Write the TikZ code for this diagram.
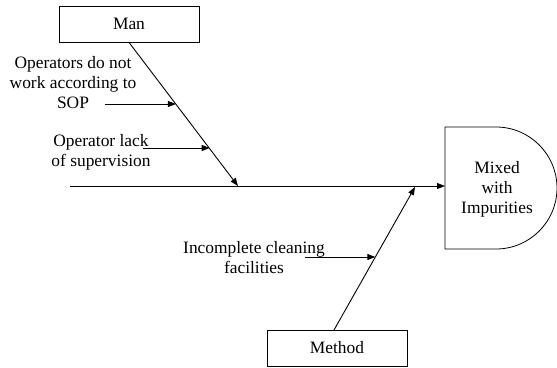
\documentclass[tikz,border=0pt]{standalone}
\usepackage{fontspec}
\setmainfont{Liberation Serif}
\usetikzlibrary{arrows.meta,calc}

\tikzset{
  bone/.style={line width=0.9pt,-{Triangle[length=8pt,width=6pt]}},
  catbox/.style={draw,line width=0.8pt,minimum width=140pt,minimum height=36pt,inner sep=0pt},
  cause/.style={align=center,inner sep=0pt},
  txt/.style={font=\fontsize{17.4}{20}\selectfont}
}

\begin{document}
\begin{tikzpicture}[x=1pt,y=-1pt,txt]
  \useasboundingbox (0,0) rectangle (557,367);

  % category boxes
  \node[catbox] (man) at (129,24) {Man};
  \node[catbox] (method) at (337,348) {Method};

  % effect head (D shape)
  \draw[line width=0.8pt] (445,127) -- (496,127) arc[start angle=-90,end angle=90,radius=61] -- (445,249) -- cycle;
  \node[cause] (effect) at (497,189) {Mixed\\with\\Impurities};

  % spine
  \coordinate (tail) at (70,186);
  \coordinate (head) at (445,186);
  \draw[bone] (tail) -- (head);

  % main bones
  \coordinate (manhit) at (238,186);
  \coordinate (methodhit) at (415,187);
  \coordinate (methodfoot) at (334,330);
  \draw[bone] (man.south) -- (manhit);
  \draw[bone] (methodfoot) -- (methodhit);

  % causes
  \node[cause] (c1) at (73,83) {Operators do not\\work according to\\SOP};
  \node[cause] (c2) at (101,152) {Operator lack\\of supervision};
  \node[cause] (c3) at (254,258) {Incomplete cleaning\\facilities};

  \coordinate (c1s) at (105,104);
  \coordinate (c2s) at (143,148);
  \coordinate (c3s) at (305,257);
  \coordinate (c1e) at ($(man.south)!0.43!(manhit)$);
  \coordinate (c2e) at ($(man.south)!0.74!(manhit)$);
  \coordinate (c3e) at ($(methodfoot)!0.51!(methodhit)$);
  \draw[bone] (c1s) -- (c1s -| c1e);
  \draw[bone] (c2s) -- (c2s -| c2e);
  \draw[bone] (c3s) -- (c3s -| c3e);
\end{tikzpicture}
\end{document}
